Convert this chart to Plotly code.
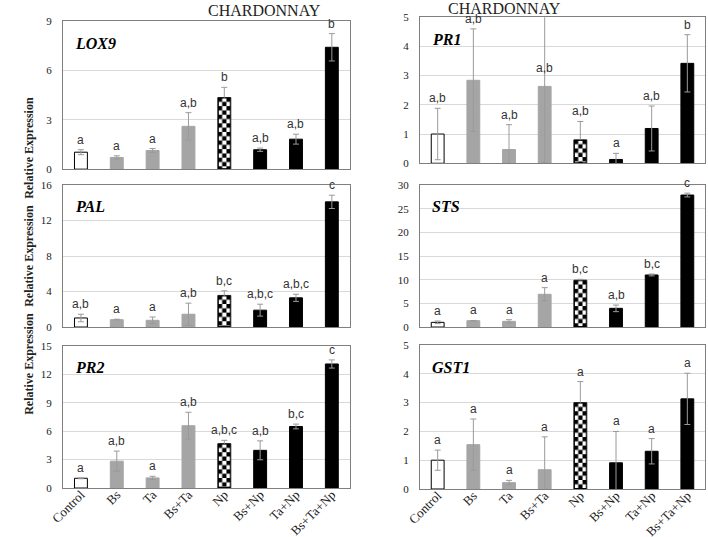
import base64
import plotly.graph_objects as go
from plotly.subplots import make_subplots

categories = ["Control", "Bs", "Ta", "Bs+Ta", "Np", "Bs+Np", "Ta+Np", "Bs+Ta+Np"]

lox9 = [1.03, 0.71, 1.13, 2.6, 4.35, 1.18, 1.82, 7.4]
lox9_err = [0.15, 0.1, 0.12, 0.83, 0.62, 0.1, 0.3, 0.83]
lox9_let = ["a", "a", "a", "a,b", "b", "a,b", "a,b", "b"]

pr1 = [1.0, 2.84, 0.47, 2.63, 0.8, 0.13, 1.19, 3.42]
pr1_err = [0.88, 1.76, 0.85, 2.6, 0.63, 0.21, 0.77, 0.98]
pr1_let = ["a,b", "a,b", "a,b", "a,b", "a,b", "a", "a,b", "b"]

pal = [1.02, 0.83, 0.76, 1.44, 3.56, 1.9, 3.29, 14.1]
pal_err = [0.42, 0.05, 0.37, 1.25, 0.52, 0.67, 0.4, 0.75]
pal_let = ["a,b", "a", "a", "a,b", "b,c", "a,b,c", "a,b,c", "c"]

sts = [0.99, 1.34, 1.2, 6.92, 9.88, 3.95, 11.0, 27.88]
sts_err = [0.28, 0.05, 0.35, 1.4, 0.2, 0.7, 0.2, 0.4]
sts_let = ["a", "a", "a", "a", "b,c", "a,b", "b,c", "c"]

pr2 = [1.03, 2.84, 1.07, 6.58, 4.69, 3.98, 6.5, 13.1]
pr2_err = [0.05, 1.06, 0.17, 1.42, 0.35, 1.0, 0.25, 0.43]
pr2_let = ["a", "a,b", "a", "a,b", "a,b,c", "a,b", "b,c", "c"]

gst1 = [1.0, 1.54, 0.22, 0.67, 3.0, 0.91, 1.31, 3.13]
gst1_err = [0.35, 0.89, 0.08, 1.14, 0.73, 1.09, 0.44, 0.89]
gst1_let = ["a"] * 8

panels = [
    ("LOX9", lox9, lox9_err, lox9_let, 9, 3),
    ("PR1", pr1, pr1_err, pr1_let, 5, 1),
    ("PAL", pal, pal_err, pal_let, 16, 4),
    ("STS", sts, sts_err, sts_let, 30, 5),
    ("PR2", pr2, pr2_err, pr2_let, 15, 3),
    ("GST1", gst1, gst1_err, gst1_let, 5, 1),
]

W, H = 708, 537
BAR_W = 0.36
GRAY = "#a5a5a5"
fills = ["white", GRAY, GRAY, GRAY, "white", "black", "black", "black"]
lines = ["black", GRAY, GRAY, GRAY, "black", "black", "black", "black"]
CHECK_IDX = 4  # Np bar is checkered

x_dom = [(0.089, 0.494), (0.593, 0.996)]
y_dom = [[(0.685, 0.961), (0.696, 0.968)],
         [(0.391, 0.6555), (0.391, 0.6555)],
         [(0.0912, 0.3557), (0.0894, 0.3575)]]


def checker_uri(wpx, hpx, sq=4.3):
    s2 = 2 * sq
    svg = ('<svg xmlns="http://www.w3.org/2000/svg" width="%.2f" height="%.2f" '
           'viewBox="0 0 %.2f %.2f" preserveAspectRatio="none"><defs>'
           '<pattern id="c" width="%.2f" height="%.2f" patternUnits="userSpaceOnUse">'
           '<rect width="%.2f" height="%.2f" fill="white"/>'
           '<rect width="%.2f" height="%.2f" fill="black"/>'
           '<rect x="%.2f" y="%.2f" width="%.2f" height="%.2f" fill="black"/>'
           '</pattern></defs><rect width="100%%" height="100%%" fill="url(#c)"/>'
           '<rect x="0.5" y="0.5" width="%.2f" height="%.2f" fill="none" stroke="black" stroke-width="1"/>'
           '</svg>') % (wpx, hpx, wpx, hpx, s2, s2, s2, s2, sq, sq, sq, sq, sq, sq,
                        wpx - 1, hpx - 1)
    return "data:image/svg+xml;base64," + base64.b64encode(svg.encode()).decode()


fig = make_subplots(rows=3, cols=2)
serif = "Liberation Serif"
images = []

for i, (name, vals, errs, lets, ymax, dt) in enumerate(panels):
    r, c = i // 2 + 1, i % 2 + 1
    fig.add_trace(go.Bar(
        x=categories, y=vals, width=BAR_W,
        marker=dict(color=fills, line=dict(color=lines, width=1)),
        error_y=dict(type="data", array=errs, visible=True, color="#9a9a9a",
                     thickness=1, width=3),
        cliponaxis=False, showlegend=False,
    ), row=r, col=c)
    ax = "" if i == 0 else str(i + 1)
    fig.update_xaxes(domain=x_dom[c - 1], showline=True, mirror=True, linecolor="#7f7f7f",
                     linewidth=1, ticks="", showgrid=False, showticklabels=(r == 3),
                     tickangle=-45, automargin=False, ticklabelstandoff=-7,
                     tickfont=dict(family=serif, size=13, color="#222"),
                     row=r, col=c)
    fig.update_yaxes(domain=y_dom[r - 1][c - 1], range=[0, ymax], dtick=dt,
                     showline=True, mirror=True, linecolor="#7f7f7f", linewidth=1,
                     showgrid=True, gridcolor="#d9d9d9", zeroline=False, ticks="",
                     automargin=False, ticklabelstandoff=8,
                     tickfont=dict(family=serif, size=11, color="#222"),
                     row=r, col=c)
    # checker texture for the Np bar, sized from the axis scale
    dx = x_dom[c - 1]
    dy = y_dom[r - 1][c - 1]
    wpx = BAR_W * (dx[1] - dx[0]) * W / len(categories)
    hpx = vals[CHECK_IDX] / ymax * (dy[1] - dy[0]) * H
    images.append(dict(source=checker_uri(wpx, hpx), xref="x" + ax, yref="y" + ax,
                       x=CHECK_IDX - BAR_W / 2, y=vals[CHECK_IDX], sizex=BAR_W,
                       sizey=vals[CHECK_IDX], sizing="stretch", xanchor="left",
                       yanchor="top", layer="above"))
    # gene label
    fig.add_annotation(text="<b><i>%s</i></b>" % name, xref="x%s domain" % ax,
                       yref="y%s domain" % ax, x=0.035, y=0.92, xanchor="left",
                       yanchor="top", showarrow=False,
                       font=dict(family=serif, size=16, color="black"))
    # letters
    for k in range(len(categories)):
        top = vals[k] + errs[k]
        base = top if top < ymax else vals[k] + 0.06 * ymax
        fig.add_annotation(text=lets[k], x=categories[k], y=base,
                           xref="x" + ax, yref="y" + ax, yanchor="bottom",
                           showarrow=False, yshift=1,
                           font=dict(family="Liberation Sans", size=12, color="#333"))

# titles
for xc, yt in [((0.089 + 0.494) / 2, 1.0), ((0.593 + 0.996) / 2, 1.003)]:
    fig.add_annotation(text="CHARDONNAY", xref="paper", yref="paper", x=xc, y=yt,
                       yanchor="top", showarrow=False,
                       font=dict(family=serif, size=16, color="#222"))
for (y0, y1) in [y_dom[0][0], y_dom[1][0], y_dom[2][0]]:
    fig.add_annotation(text="<b>Relative Expression</b>", xref="paper", yref="paper",
                       x=0.028, y=(y0 + y1) / 2, textangle=-90, showarrow=False,
                       font=dict(family=serif, size=12, color="#222"))

fig.update_layout(width=W, height=H, margin=dict(l=0, r=0, t=0, b=0),
                  plot_bgcolor="white", paper_bgcolor="white", images=images)
fig.write_html("out.html", config={"displayModeBar": False},
               post_script="document.body.style.margin='0';document.body.style.overflow='hidden';")
